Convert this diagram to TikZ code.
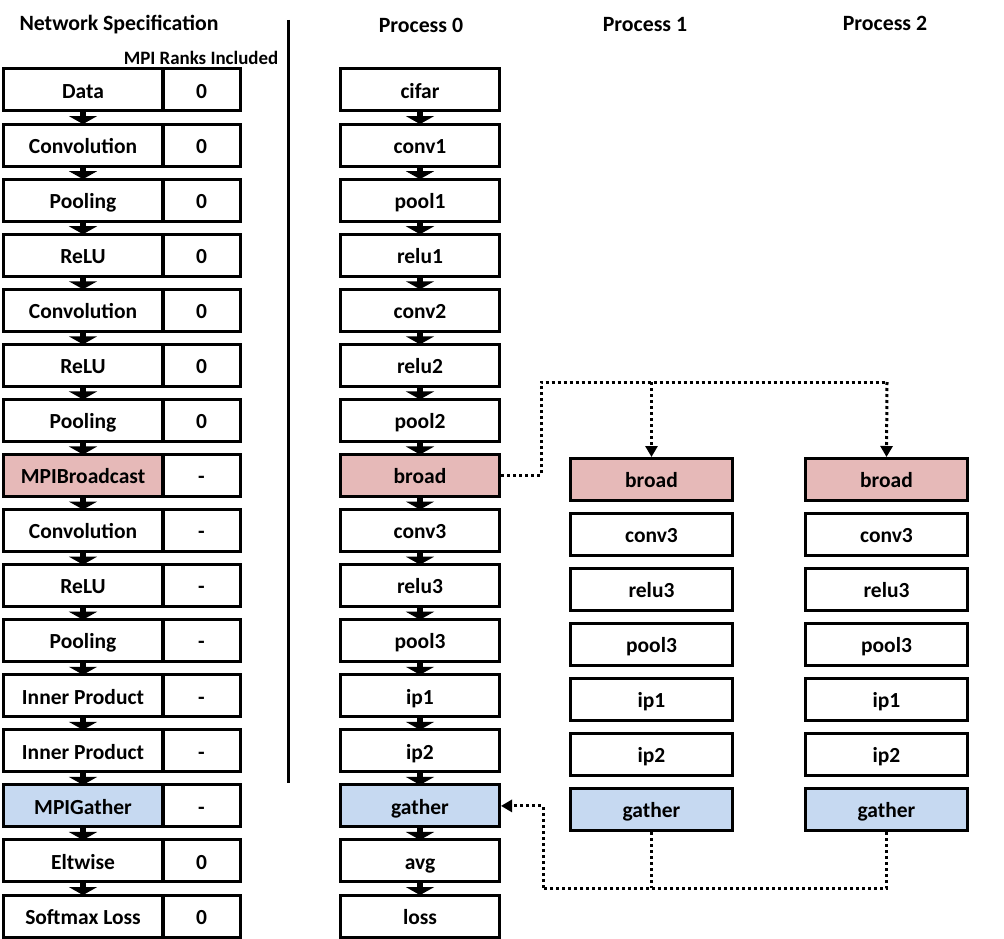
\documentclass[tikz,border=0pt]{standalone}
\usepackage{fontspec}
\setmainfont{Carlito}
\usetikzlibrary{arrows.meta}
\definecolor{bpink}{HTML}{E6B9B8}
\definecolor{gblue}{HTML}{C6D9F1}
\begin{document}
\begin{tikzpicture}[x=1pt,y=-1pt,
  box/.style={draw=black,line width=3pt,minimum height=42pt,inner sep=0pt,text height=16.5pt,text depth=0pt,font=\fontsize{21.5}{23}\selectfont\bfseries,anchor=center},
  namebox/.style={box,minimum width=159pt},
  rankbox/.style={box,minimum width=77pt},
  pbox/.style={box,minimum width=159pt},
  qbox/.style={box,minimum width=162pt},
  hdr/.style={font=\fontsize{21.8}{23}\selectfont\bfseries,inner sep=0pt},
  flow/.style={line width=6pt,-{Triangle[width=28pt,length=8pt]},shorten >=-1.5pt,shorten <=-1.5pt},
  dotline/.style={line width=3pt,dash pattern=on 3pt off 3pt},
  dotarrow/.style={dotline,-{Triangle[width=12pt,length=11pt]}}
]
\useasboundingbox (0,0) rectangle (1004,939);

% headers
\node[hdr] (hNet) at (119,25) {Network Specification};
\node[font=\fontsize{18.9}{20}\selectfont\bfseries,inner sep=0pt] (hMPI) at (201,58) {MPI Ranks Included};
\node[hdr] (hP0) at (421,25) {Process 0};
\node[hdr] (hP1) at (645,25) {Process 1};
\node[hdr] (hP2) at (885,23) {Process 2};

% divider
\coordinate (dA) at (288,20);
\coordinate (dB) at (288,783);
\draw[line width=3pt] (dA) -- (dB);

% left column and process 0
\foreach \i/\nm/\rk/\pn/\fc in {
 0/Data/0/cifar/white,
 1/Convolution/0/conv1/white,
 2/Pooling/0/pool1/white,
 3/ReLU/0/relu1/white,
 4/Convolution/0/conv2/white,
 5/ReLU/0/relu2/white,
 6/Pooling/0/pool2/white,
 7/MPIBroadcast/-/broad/bpink,
 8/Convolution/-/conv3/white,
 9/ReLU/-/relu3/white,
 10/Pooling/-/pool3/white,
 11/Inner Product/-/ip1/white,
 12/Inner Product/-/ip2/white,
 13/MPIGather/-/gather/gblue,
 14/Eltwise/0/avg/white,
 15/Softmax Loss/0/loss/white}{
  \pgfmathsetmacro{\yy}{90+55.07*\i}
  \node[namebox,fill=\fc] (n\i) at (83,\yy) {\nm};
  \node[rankbox] (r\i) at (201.5,\yy) {\rk};
  \node[pbox,fill=\fc] (p\i) at (420,\yy) {\pn};
}
\foreach \i [evaluate=\i as \j using int(\i+1)] in {0,...,14}{
  \draw[flow] (n\i.south) -- (n\j.north);
  \draw[flow] (p\i.south) -- (p\j.north);
}

% processes 1 and 2
\foreach \k/\nm/\fc in {0/broad/bpink,1/conv3/white,2/relu3/white,3/pool3/white,4/ip1/white,5/ip2/white,6/gather/gblue}{
  \pgfmathsetmacro{\yy}{479.5+55*\k}
  \node[qbox,fill=\fc] (a\k) at (651.5,\yy) {\nm};
  \node[qbox,fill=\fc] (b\k) at (886.5,\yy) {\nm};
}

% broadcast connectors
\coordinate (bc1) at (541,382);
\coordinate (bc2) at (887,382);
\draw[dotline] (p7.east) -| (bc1) -- (bc2);
\draw[dotarrow] (a0.north |- bc1) -- (a0.north);
\draw[dotarrow] (bc2) -- (b0.north);

% gather connectors
\coordinate (gc1) at (543,888);
\draw[dotline] (b6.south) -- (b6.south |- gc1) -- (gc1);
\draw[dotline] (a6.south) -- (a6.south |- gc1);
\draw[dotarrow] (gc1) |- (p13.east);
\end{tikzpicture}
\end{document}
